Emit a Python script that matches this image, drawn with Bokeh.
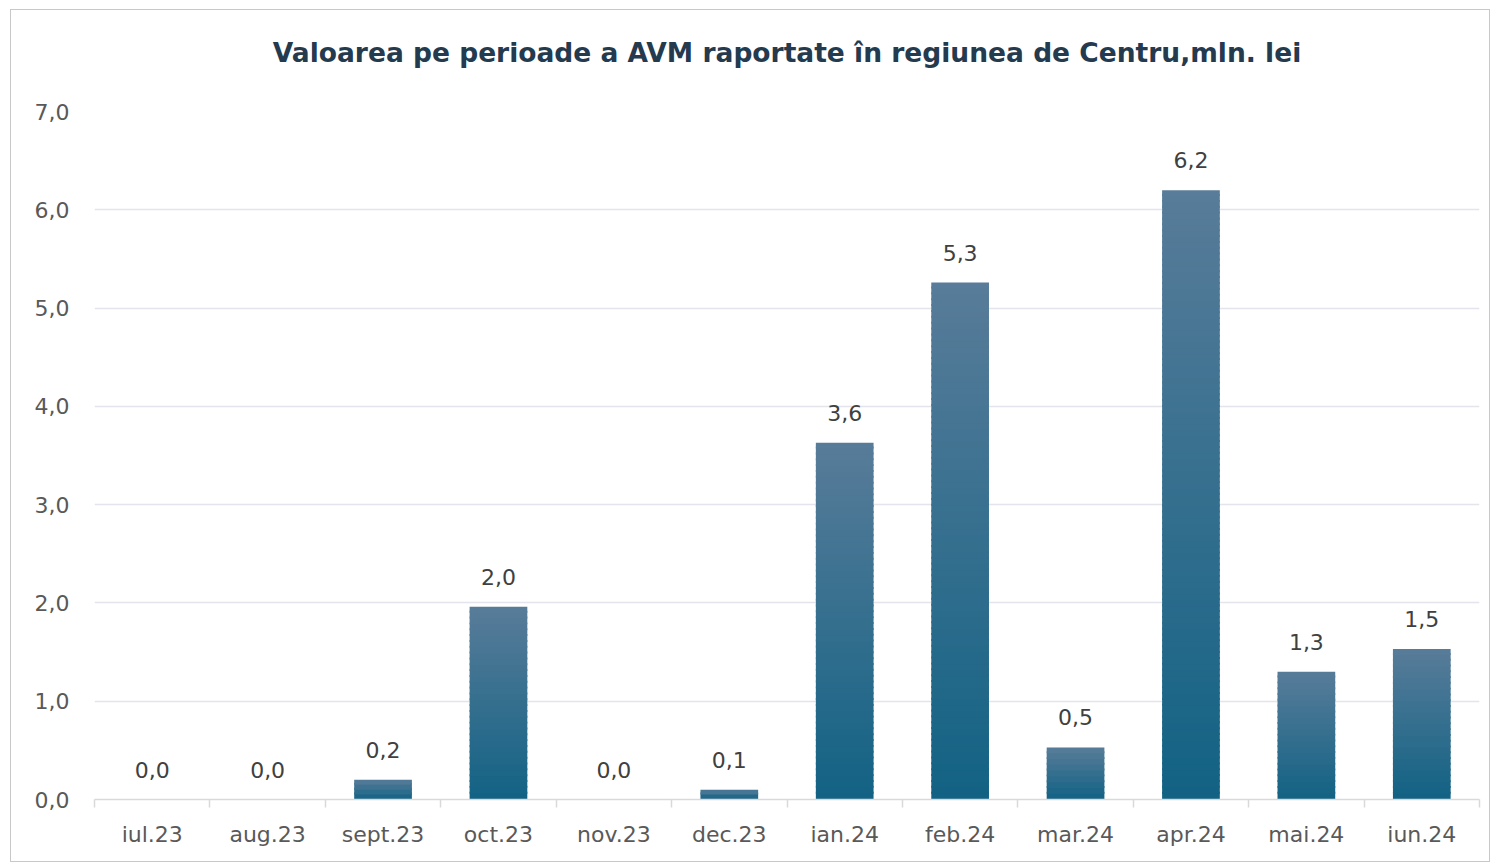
import math
from bokeh.plotting import figure
from bokeh.models import (ColumnDataSource, CustomJSTickFormatter, FixedTicker, Range1d,
                          LinearAxis)
from bokeh.core.properties import value
from bokeh.embed import file_html
from bokeh.resources import INLINE

months = ["iul.23", "aug.23", "sept.23", "oct.23", "nov.23", "dec.23",
          "ian.24", "feb.24", "mar.24", "apr.24", "mai.24", "iun.24"]
values = [0.0, 0.0, 0.2, 1.96, 0.0, 0.1, 3.63, 5.26, 0.53, 6.2, 1.3, 1.53]
labels = ["0,0", "0,0", "0,2", "2,0", "0,0", "0,1", "3,6", "5,3", "0,5", "6,2", "1,3", "1,5"]
y_ticks = [0, 1, 2, 3, 4, 5, 6, 7]

TITLE = "Valoarea pe perioade a AVM raportate în regiunea de Centru,mln. lei"
FONT = "DejaVu Sans"

n = len(months)
centers = [i + 0.5 for i in range(n)]

p = figure(x_range=Range1d(0, n), y_range=Range1d(0, y_ticks[-1]), width=1480, height=853,
           output_backend="svg", toolbar_location=None, x_axis_type=None,
           min_border_left=83, min_border_right=12, min_border_bottom=64, min_border_top=101)

# chart title drawn as the label of an invisible axis above the plot
title_ax = LinearAxis(ticker=FixedTicker(ticks=[]), axis_label=TITLE, bounds=(0, n - 0.32))
title_ax.axis_line_color = None
title_ax.major_tick_line_color = None
title_ax.minor_tick_line_color = None
title_ax.major_tick_in = 0
title_ax.major_tick_out = 0
title_ax.major_label_standoff = 0
title_ax.axis_label_standoff = 44
title_ax.axis_label_text_font = FONT
title_ax.axis_label_text_font_size = "26.5px"
title_ax.axis_label_text_font_style = "bold"
title_ax.axis_label_text_color = "#243a4f"
p.add_layout(title_ax, "above")

# gradient bars: stacked slices per bar
top_c = (0x58, 0x7c, 0x99)
bot_c = (0x12, 0x62, 0x84)
xs, bots, tops, cols = [], [], [], []
for cx, v in zip(centers, values):
    if v <= 0:
        continue
    N = max(2, int(math.ceil(v / 0.06)))
    for k in range(N):
        f = (k + 0.5) / N
        c = tuple(int(round(bot_c[i] + (top_c[i] - bot_c[i]) * f)) for i in range(3))
        xs.append(cx)
        bots.append(v * k / N)
        tops.append(min(v, v * (k + 1) / N + 0.02))
        cols.append("#%02x%02x%02x" % c)
src = ColumnDataSource(dict(x=xs, bottom=bots, top=tops, color=cols))
p.vbar(x="x", bottom="bottom", top="top", width=0.5, fill_color="color",
       line_color=None, source=src)

lsrc = ColumnDataSource(dict(x=centers, y=values, t=labels))
p.text(x="x", y="y", text="t", source=lsrc, text_align="center", text_baseline="bottom",
       y_offset=-22, text_font=value(FONT), text_font_size="22px", text_color="#404040")

p.yaxis.ticker = FixedTicker(ticks=y_ticks)
p.yaxis.formatter = CustomJSTickFormatter(code="return tick.toFixed(1).replace('.', ',');")
p.yaxis.axis_line_color = None
p.yaxis.major_tick_line_color = None
p.yaxis.major_tick_out = 0
p.yaxis.minor_tick_line_color = None
p.yaxis.major_label_text_font = FONT
p.yaxis.major_label_text_font_size = "22px"
p.yaxis.major_label_text_color = "#595959"
p.yaxis.major_label_standoff = 25

# boundary ticks between categories
tick_ax = LinearAxis(ticker=FixedTicker(ticks=list(range(n + 1))),
                     formatter=CustomJSTickFormatter(code="return '';"))
tick_ax.axis_line_color = "#d9d9d9"
tick_ax.axis_line_width = 1.5
tick_ax.major_tick_line_color = "#d9d9d9"
tick_ax.major_tick_line_width = 1.5
tick_ax.major_tick_in = 0
tick_ax.major_tick_out = 8
tick_ax.minor_tick_line_color = None
tick_ax.major_label_text_font_size = "1px"
tick_ax.major_label_standoff = 0

# month labels at category centres
main_ax = LinearAxis(ticker=FixedTicker(ticks=centers),
                     major_label_overrides={c: m for c, m in zip(centers, months)})
main_ax.axis_line_color = None
main_ax.major_tick_line_color = None
main_ax.major_tick_in = 0
main_ax.major_tick_out = 0
main_ax.minor_tick_line_color = None
main_ax.major_label_text_font = FONT
main_ax.major_label_text_font_size = "22px"
main_ax.major_label_text_color = "#595959"
main_ax.major_label_standoff = 14
p.add_layout(tick_ax, "below")
p.add_layout(main_ax, "below")

p.xgrid.grid_line_color = None
p.ygrid.grid_line_color = "#e4e4ec"
p.ygrid.grid_line_width = 1.5
p.outline_line_color = None
p.styles = {"border": "1px solid #c8c8c8", "margin-left": "10px", "margin-top": "9px"}

open("out.html", "w").write(file_html(p, INLINE))
